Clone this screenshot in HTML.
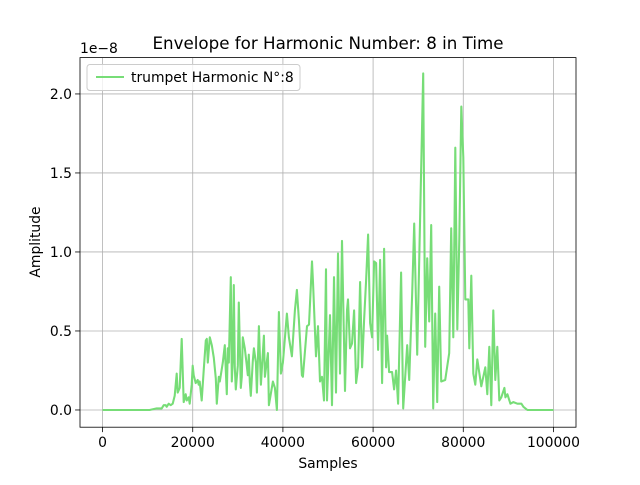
<!DOCTYPE html>
<html><head><meta charset="utf-8"><style>
body{margin:0;background:#fff;}
svg text{font-family:"DejaVu Sans","Liberation Sans",sans-serif;fill:#000;}
</style></head><body>
<svg id="chart" width="640" height="480">
<rect width="640" height="480" fill="#fff"/>
<g id="grid"></g>
<g id="ticks"></g>
<path id="series" fill="none" stroke="#77dd77" stroke-width="2.08" stroke-linejoin="round"/>
<rect x="80" y="57.6" width="496" height="369.6" fill="none" stroke="#000" stroke-width="0.8"/>
<text x="328" y="49" font-size="16.7" text-anchor="middle">Envelope for Harmonic Number: 8 in Time</text>
<text x="80" y="53" font-size="13.9">1e−8</text>
<text x="328" y="468" font-size="13.9" text-anchor="middle">Samples</text>
<text x="0" y="0" font-size="13.9" text-anchor="middle" transform="translate(40,242) rotate(-90)">Amplitude</text>
<g>
<rect x="87" y="64.5" width="213" height="26" rx="3" fill="#fff" fill-opacity="0.8" stroke="#ccc"/>
<line x1="96" y1="77" x2="124" y2="77" stroke="#77dd77" stroke-width="2.08"/>
<text x="131" y="82" font-size="13.9">trumpet Harmonic N°:8</text>
</g>
</svg>
<script>
const xTicks=[0,20000,40000,60000,80000,100000];
const yTicks=[0,0.5,1.0,1.5,2.0];
const yTickLabels=["0.0","0.5","1.0","1.5","2.0"];
const samples=[0,10444,12000,13111,13556,14000,14222,14667,15111,15556,16000,16444,16667,17111,17556,18000,18444,18667,19111,19333,19778,20000,20222,20667,21111,21333,21556,22000,22444,22889,23111,23333,23778,24222,24667,25111,25333,25778,26000,26667,27111,27333,27556,27778,28000,28444,28667,28889,29111,29333,29556,30000,30222,30667,30889,31111,31556,32000,32222,32444,32667,32889,33333,33556,34000,34222,34667,35111,35778,36000,36667,36889,37778,38222,38667,39111,39556,40000,40889,41333,42000,42667,43111,43556,44222,44444,45333,45778,46444,46667,47333,47778,48222,48667,49111,49556,49778,50444,50889,51333,51778,52222,52667,53111,53778,54222,54444,54889,55333,55778,56222,56667,57111,57556,58000,58444,58889,59333,59778,60222,60667,61111,61556,62000,62444,62889,63111,63556,64222,64667,65111,65556,66222,66667,67111,67556,68000,68667,69111,69778,71111,71556,72000,72444,72889,73333,73778,74222,74667,75111,76000,76889,77333,77778,78222,78667,79111,79556,80000,80444,81111,81333,81778,82222,82667,83111,84000,84889,85333,85778,86222,86667,87111,87556,88000,88444,89111,89333,89778,90444,91111,92000,92889,93333,94222,100000];
const amplitude=[0,0,.01,.01,.03,.03,.02,.04,.03,.04,.09,.23,.11,.14,.45,.05,.10,.06,.08,.04,.16,.28,.22,.17,.19,.16,.18,.06,.25,.44,.45,.30,.46,.41,.33,.20,.04,.21,.18,.30,.41,.25,.10,.39,.30,.84,.18,.32,.79,.27,.13,.28,.68,.14,.21,.46,.39,.28,.22,.35,.18,.09,.31,.39,.30,.11,.53,.16,.47,.21,.36,.03,.18,.14,0,.62,.23,.30,.61,.46,.34,.63,.76,.57,.22,.21,.53,.54,.94,.81,.34,.53,.18,.21,.06,.89,.06,.60,.03,.84,.11,.99,.23,1.07,.12,.63,.70,.39,.42,.63,.17,.27,.81,.27,.57,.82,1.11,.55,.46,.94,.93,.38,.95,.17,1.02,.27,.47,.24,.24,.13,.25,.04,.87,.01,.21,.41,.19,.74,1.18,.35,2.13,.40,.96,.56,1.17,.01,.61,.05,.78,.18,.19,.36,1.15,.46,1.66,.51,1.08,1.92,1.60,.70,.70,.39,.85,.23,.16,.32,.15,.27,.10,.40,.03,.63,.19,.40,.06,.08,.14,.08,.10,.04,.05,.04,.04,.02,0,0];
const L=80,T=57.6,W=496,H=369.6,xmin=-5000,xmax=105000,ymin=-0.109,ymax=2.23;
function sx(v){return L+(v-xmin)/(xmax-xmin)*W;}
function sy(v){return T+H-(v-ymin)/(ymax-ymin)*H;}
const NS="http://www.w3.org/2000/svg";
const grid=document.getElementById('grid'),ticks=document.getElementById('ticks');
function mk(tag,attrs,parent){const e=document.createElementNS(NS,tag);for(const k in attrs)e.setAttribute(k,attrs[k]);parent.appendChild(e);return e;}
xTicks.forEach(v=>{const x=sx(v);
const g=mk('line',{x1:x,x2:x,y1:T,y2:T+H,stroke:'#b0b0b0','stroke-width':0.8},grid);


const t=mk('line',{x1:x,x2:x,y1:T+H,y2:T+H+4.9,stroke:'#000','stroke-width':0.8},ticks);


const l=mk('text',{x:x,y:T+H+20,'font-size':13.9,'text-anchor':'middle'},ticks);l.textContent=String(v);

});
yTicks.forEach((v,i)=>{const y=sy(v);
const g=mk('line',{x1:L,x2:L+W,y1:y,y2:y,stroke:'#b0b0b0','stroke-width':0.8},grid);


const t=mk('line',{x1:L-4.9,x2:L,y1:y,y2:y,stroke:'#000','stroke-width':0.8},ticks);


const l=mk('text',{x:L-8,y:y+5,'font-size':13.9,'text-anchor':'end'},ticks);l.textContent=yTickLabels[i];

});
document.getElementById('series').setAttribute('d',samples.map((s,i)=>(i?'L':'M')+sx(s).toFixed(1)+','+sy(amplitude[i]).toFixed(1)).join(''));
</script>
</body></html>
